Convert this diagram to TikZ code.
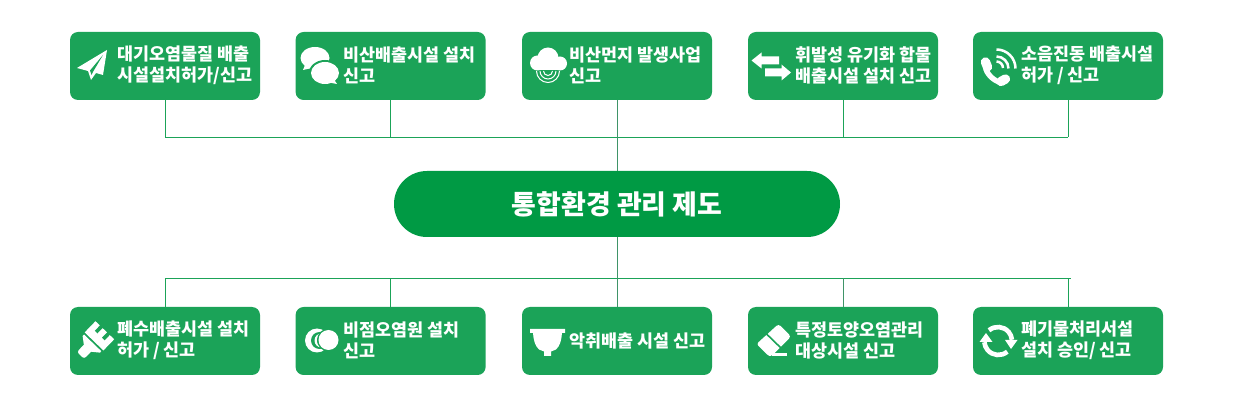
\documentclass[tikz,border=0pt]{standalone}
\usepackage{fontspec}
\setmainfont{Noto Sans CJK KR}
\definecolor{boxgreen}{HTML}{1BA358}
\definecolor{pillgreen}{HTML}{009A44}
\definecolor{dropgreen}{HTML}{3F9468}
\tikzset{
	linkbox/.style={fill=boxgreen,rounded corners=6pt,minimum width=142.5pt,minimum height=51pt,inner sep=0pt},
	mainbox/.style={fill=pillgreen,rounded corners=24.7pt,minimum width=334.5pt,minimum height=49.5pt,inner sep=0pt,text=white,font=\fontsize{20.2}{24}\selectfont\bfseries},
	boxtext/.style={anchor=west,inner sep=0pt,align=left,text=white,font=\fontsize{13.05}{15.6}\selectfont\bfseries},
	busline/.style={draw=boxgreen,line width=0.75pt},
	dropline/.style={draw=dropgreen,line width=0.75pt},
	icon/.style={fill=white,draw=none},
	iconline/.style={draw=white,fill=none}
}
\begin{document}
\begin{tikzpicture}[x=0.75pt,y=0.75pt]
	\useasboundingbox (0,0) rectangle (1240,-413);
	% upper row
	\node [linkbox] (airbox) at (165,-66) {};
	\node [linkbox] (chatbox) at (390.6,-66) {};
	\node [linkbox] (dustbox) at (617,-66) {};
	\node [linkbox] (vocbox) at (843,-66) {};
	\node [linkbox] (noisebox) at (1068,-66) {};
	% lower row
	\node [linkbox] (waterbox) at (165,-341) {};
	\node [linkbox] (pointbox) at (390.6,-341) {};
	\node [linkbox] (odorbox) at (617,-341) {};
	\node [linkbox] (soilbox) at (843,-341) {};
	\node [linkbox] (wastebox) at (1068,-341) {};
	\node [mainbox] (mainpill) at (617,-204) {통합환경 관리 제도};
	% texts
	\node [boxtext] (airtext) at (117,-65.5) {대기오염물질 배출\\시설설치허가/신고};
	\node [boxtext] (chattext) at (343,-65.5) {비산배출시설 설치\\신고};
	\node [boxtext] (dusttext) at (569,-65.5) {비산먼지 발생사업\\신고};
	\node [boxtext] (voctext) at (795,-65.5) {휘발성 유기화 합물\\배출시설 설치 신고};
	\node [boxtext] (noisetext) at (1021,-65.5) {소음진동 배출시설\\허가 / 신고};
	\node [boxtext] (watertext) at (117,-340.5) {폐수배출시설 설치\\허가 / 신고};
	\node [boxtext] (pointtext) at (343,-340.5) {비점오염원 설치\\신고};
	\node [boxtext] (odortext) at (569,-340.5) {악취배출 시설 신고};
	\node [boxtext] (soiltext) at (795,-340.5) {특정토양오염관리\\대상시설 신고};
	\node [boxtext] (wastetext) at (1021,-340.5) {폐기물처리서설\\설치 승인/ 신고};
	% connectors
	\coordinate (topleft) at (165,-137.5);
	\coordinate (topright) at (1068,-137.5);
	\coordinate (lowleft) at (165,-278.5);
	\coordinate (lowright) at (1071,-278.5);
	\draw [busline] (topleft) -- (topright);
	\draw [busline] (lowleft) -- (lowright);
	\draw [busline] (airbox.south) -- (topleft);
	\draw [busline] (chatbox.south) -- (chatbox.south |- topleft);
	\draw [busline] (vocbox.south) -- (vocbox.south |- topleft);
	\draw [busline] (noisebox.south) -- (topright);
	\draw [dropline] (dustbox.south) -- (mainpill.north);
	\draw [dropline] (mainpill.south) -- (odorbox.north);
	\draw [busline] (waterbox.north) -- (lowleft);
	\draw [busline] (pointbox.north) -- (pointbox.north |- lowleft);
	\draw [dropline] (soilbox.north) -- (soilbox.north |- lowleft);
	\draw [busline] (wastebox.north) -- (wastebox.north |- lowleft);
	% paper plane
	\fill [icon] (107,-50) -- (77,-68) -- (88,-71) -- (91,-80) -- (96,-73) -- (103,-75) -- cycle;
	\fill [boxgreen] (103,-55) -- (90,-70.5) -- (91.5,-75) -- (93.5,-71) -- cycle;
	% speech bubbles
	\fill [icon] (315,-58) ellipse (14.5 and 11);
	\fill [icon] (305,-65) -- (303,-70) -- (312,-68) -- cycle;
	\fill [boxgreen] (325,-73) ellipse (16 and 13);
	\fill [icon] (325,-73) ellipse (14 and 11);
	\fill [icon] (333,-78) -- (337,-84) -- (326,-82) -- cycle;
	% cloud
	\fill [icon] (548,-58) circle (10.5);
	\fill [icon] (537.5,-63) circle (7.5);
	\fill [icon] (560,-63.5) circle (7);
	\fill [icon] (537.5,-60) rectangle (560,-70.5);
	\draw [iconline,line width=0.75pt] (536.5,-71) arc (180:360:11.5);
	\draw [iconline,line width=0.75pt] (540,-71) arc (180:360:8);
	\draw [iconline,line width=0.75pt] (543.5,-71) arc (180:360:4.5);
	% two arrows
	\fill [icon] (751.5,-60.5) -- (761.5,-52.5) -- (761.5,-56.5) -- (779,-56.5) -- (779,-64.5) -- (761.5,-64.5) -- (761.5,-68.5) -- cycle;
	\fill [icon] (791,-72.5) -- (781.5,-64.5) -- (781.5,-68.5) -- (765,-68.5) -- (765,-76.5) -- (781.5,-76.5) -- (781.5,-80.5) -- cycle;
	% phone
	\draw [iconline,line width=4pt] (985.5,-67) .. controls (986,-73) and (993,-81) .. (1002,-83);
	\draw [iconline,line width=7pt,line cap=round] (985.5,-62) -- (987.5,-67);
	\draw [iconline,line width=7pt,line cap=round] (1001,-81.5) -- (1005.5,-79);
	\draw [iconline,line width=1.9pt] (996.5,-61.5) arc (90:0:6.5);
	\draw [iconline,line width=1.9pt] (996.5,-56.5) arc (90:0:12);
	\draw [iconline,line width=1.9pt] (996.5,-49.5) arc (90:0:19);
	% brush
	\begin{scope}[shift={(93,-342.5)},rotate=46]
		\fill [icon,rounded corners=2pt] (-18,-5) rectangle (-6,5);
		\fill [icon] (-8,-5) -- (-2.5,-12) -- (-0.5,-12) -- (-0.5,12) -- (-2.5,12) -- (-8,5) -- cycle;
		\fill [icon] (1.5,-13) rectangle (9.5,13);
		\fill [icon] (9,-13) rectangle (17,-7);
		\fill [icon] (9,-3) rectangle (17,3);
		\fill [icon] (9,7) rectangle (17,13);
	\end{scope}
	% circles
	\fill [icon] (317,-340.5) circle (12);
	\fill [boxgreen] (319.5,-340.5) circle (8.5);
	\fill [icon] (321.5,-340.5) circle (7);
	\fill [boxgreen] (323.5,-340.5) circle (6.5);
	\fill [boxgreen] (328.5,-340) circle (11.5);
	\fill [icon] (328.5,-340) circle (10);
	% bowl
	\fill [icon] (530,-329) -- (565,-329) -- (565,-333) -- (562,-333) .. controls (561.5,-340) and (560,-346) .. (556,-349.5) -- (551,-351.5) -- (551,-356) -- (544,-356) -- (544,-351.5) -- (539,-349.5) .. controls (535,-346) and (533.5,-340) .. (533,-333) -- (530,-333) -- cycle;
	% eraser
	\fill [icon,rounded corners=2pt] (778.5,-324) -- (791,-336.5) -- (771.5,-356) -- (768.5,-356) -- (756.5,-344) -- cycle;
	\draw [boxgreen,line width=1.2pt] (765,-332.5) -- (782,-349);
	\fill [icon] (772,-353) rectangle (787,-356);
	% recycle
	\draw [iconline,line width=3.5pt] (989,-330.3) arc (130:5:14);
	\draw [iconline,line width=3.5pt] (1007.3,-351.7) arc (-50:-175:14);
	\fill [icon] (979.5,-342) -- (986,-333) -- (992.5,-342) -- cycle;
	\fill [icon] (1005,-340) -- (1017.5,-340) -- (1011,-349) -- cycle;
\end{tikzpicture}
\end{document}
